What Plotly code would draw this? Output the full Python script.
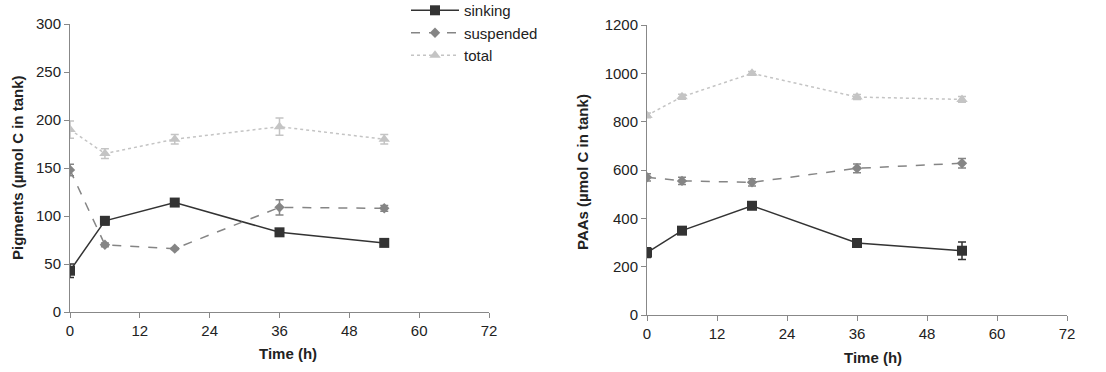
import plotly.graph_objects as go

time_h = [0, 6, 18, 36, 54]

# Pigments (left)
pig_sinking = [43, 95, 114, 83, 72]
pig_sinking_err = [7, 4, 3, 2, 3]
pig_suspended = [148, 70, 66, 109, 108]
pig_suspended_err = [6, 2, 1, 8, 3]
pig_total = [190, 165, 180, 193, 180]
pig_total_err = [9, 5, 5, 9, 5]

# PAAs (right)
paa_sinking = [258, 349, 452, 298, 266]
paa_sinking_err = [20, 10, 8, 10, 36]
paa_suspended = [570, 555, 549, 607, 628]
paa_suspended_err = [15, 15, 15, 18, 20]
paa_total = [826, 903, 1000, 902, 892]
paa_total_err = [10, 10, 8, 10, 12]

x_ticks = [0, 12, 24, 36, 48, 60, 72]

C_SINK = "#333333"
C_SUSP = "#858585"
C_TOT = "#c4c4c4"
FONT = "Liberation Sans, Arial, sans-serif"

W, H = 1106, 372

fig = go.Figure()

def add_series(y, err, name, color, dash, symbol, size, xa, ya, show):
    fig.add_trace(go.Scatter(
        x=time_h, y=y, name=name, mode="lines+markers",
        line=dict(color=color, width=1.5, dash=dash),
        marker=dict(color=color, symbol=symbol, size=size),
        error_y=dict(type="data", array=err, visible=True, color=color,
                     thickness=1.5, width=4),
        xaxis=xa, yaxis=ya, showlegend=show,
    ))

add_series(pig_sinking, pig_sinking_err, "sinking", C_SINK, "solid", "square", 10, "x", "y", True)
add_series(pig_suspended, pig_suspended_err, "suspended", C_SUSP, "dash", "diamond", 8, "x", "y", True)
add_series(pig_total, pig_total_err, "total", C_TOT, "dot", "triangle-up", 10, "x", "y", True)

add_series(paa_sinking, paa_sinking_err, "sinking", C_SINK, "solid", "square", 10, "x2", "y2", False)
add_series(paa_suspended, paa_suspended_err, "suspended", C_SUSP, "dash", "diamond", 8, "x2", "y2", False)
add_series(paa_total, paa_total_err, "total", C_TOT, "dot", "triangle-up", 10, "x2", "y2", False)

def px_x(p):
    return p / W

def px_y(p):
    return 1 - p / H

axis_common = dict(
    showgrid=False, zeroline=False, showline=True, linecolor="#888888",
    linewidth=1, ticks="outside", ticklen=5, tickcolor="#888888",
    tickfont=dict(family=FONT, size=15, color="#222222"), automargin=False,
)

fig.update_layout(
    width=W, height=H,
    margin=dict(l=0, r=0, t=0, b=0, pad=0, autoexpand=False),
    paper_bgcolor="white", plot_bgcolor="white",
    font=dict(family=FONT, size=15, color="#222222"),
    xaxis=dict(domain=[px_x(70), px_x(489)], range=[0, 72], tickvals=x_ticks,
               anchor="y", **axis_common),
    yaxis=dict(domain=[px_y(312), px_y(24)], range=[0, 300], dtick=50,
               anchor="x", **axis_common),
    xaxis2=dict(domain=[px_x(647), px_x(1067)], range=[0, 72], tickvals=x_ticks,
                anchor="y2", **axis_common),
    yaxis2=dict(domain=[px_y(315), px_y(25)], range=[0, 1200], dtick=200,
                anchor="x2", **axis_common),
    legend=dict(x=px_x(406), y=1.016, xanchor="left", yanchor="top",
                bgcolor="rgba(0,0,0,0)", font=dict(family=FONT, size=15, color="#222222"),
                tracegroupgap=0, itemwidth=48),
    showlegend=True,
)

ann = dict(showarrow=False, xref="paper", yref="paper", xanchor="center",
           yanchor="middle", font=dict(family=FONT, size=15, color="#222222"))
fig.add_annotation(text="<b>Pigments (µmol C in tank)</b>", x=px_x(17), y=px_y(168),
                   textangle=-90, **ann)
fig.add_annotation(text="<b>PAAs (µmol C in tank)</b>", x=px_x(582), y=px_y(172),
                   textangle=-90, **ann)
fig.add_annotation(text="<b>Time (h)</b>", x=px_x(288), y=px_y(353), **ann)
fig.add_annotation(text="<b>Time (h)</b>", x=px_x(873), y=px_y(357), **ann)

fig.write_html("out.html")
